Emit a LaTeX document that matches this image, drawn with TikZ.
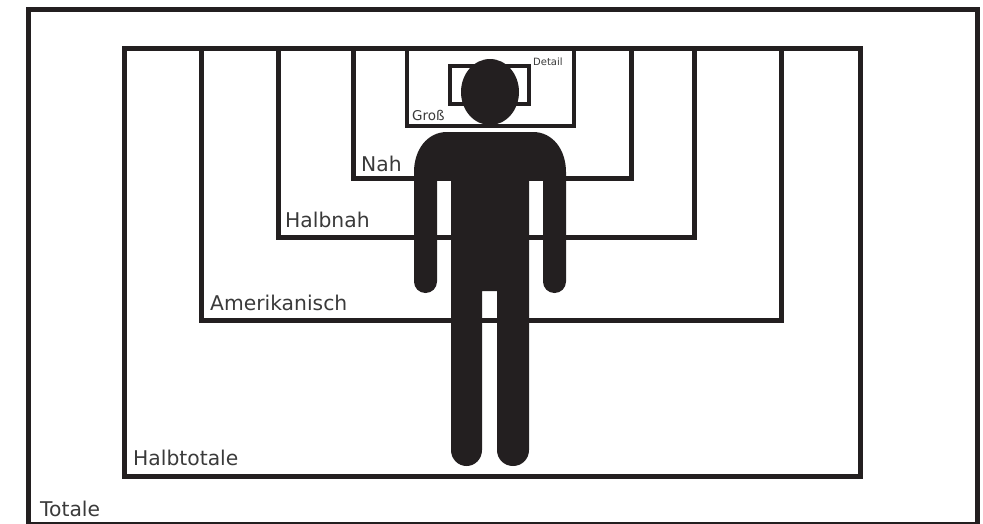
\documentclass[tikz,border=0pt]{standalone}
\usepackage{fontspec}
\setmainfont{DejaVu Sans}
\definecolor{figblack}{HTML}{231F20}
\definecolor{labelgray}{HTML}{3A3A3A}
\begin{document}
\begin{tikzpicture}[x=1pt, y=-1pt,
  shotbox/.style={draw=figblack, line width=5pt, line join=miter},
  shotlabel/.style={anchor=base west, inner sep=0pt, text=labelgray, font=\fontsize{20.3}{22}\selectfont}]
\useasboundingbox (0,0) rectangle (983,523);
\draw[shotbox] (28.5,9) rectangle (977,524.5);
\draw[shotbox] (124.5,48) rectangle (860,476);
\draw[shotbox] (201,48) rectangle (781,320);
\draw[shotbox] (278,48) rectangle (694,237);
\draw[shotbox] (353,48) rectangle (631,178);
\draw[shotbox, line width=4.5pt] (407,48) rectangle (574,126);
\draw[shotbox, line width=4.5pt] (450,66) rectangle (529,104);
% figure
\fill[figblack] (490,92) ellipse (29 and 33);
\fill[figblack] (447,132) -- (533,132) .. controls (553,132) and (566,150) .. (566,172)
  -- (566,281.5) .. controls (566,288) and (561,293) .. (554.5,293)
  .. controls (548,293) and (543,288) .. (543,281.5) -- (543,180) -- (529,180)
  -- (529,450) .. controls (529,459) and (522,466) .. (513,466)
  .. controls (504,466) and (497,459) .. (497,450) -- (497,291) -- (482,291)
  -- (482,450) .. controls (482,459) and (475,466) .. (466.5,466)
  .. controls (458,466) and (451,459) .. (451,450) -- (451,180) -- (437,180)
  -- (437,281.5) .. controls (437,288) and (432,293) .. (425.5,293)
  .. controls (419,293) and (414,288) .. (414,281.5) -- (414,172)
  .. controls (414,150) and (427,132) .. (447,132) -- cycle;
% labels
\node[shotlabel] (totale) at (40,516) {Totale};
\node[shotlabel] (halbtotale) at (133,465) {Halbtotale};
\node[shotlabel] (amerikanisch) at (210,310) {Amerikanisch};
\node[shotlabel] (halbnah) at (285,227) {Halbnah};
\node[shotlabel] (nah) at (361,171) {Nah};
\node[shotlabel, font=\fontsize{13.5}{15}\selectfont] (gross) at (412,120) {Groß};
\node[shotlabel, font=\fontsize{10}{12}\selectfont] (detail) at (533,65) {Detail};
\end{tikzpicture}
\end{document}
